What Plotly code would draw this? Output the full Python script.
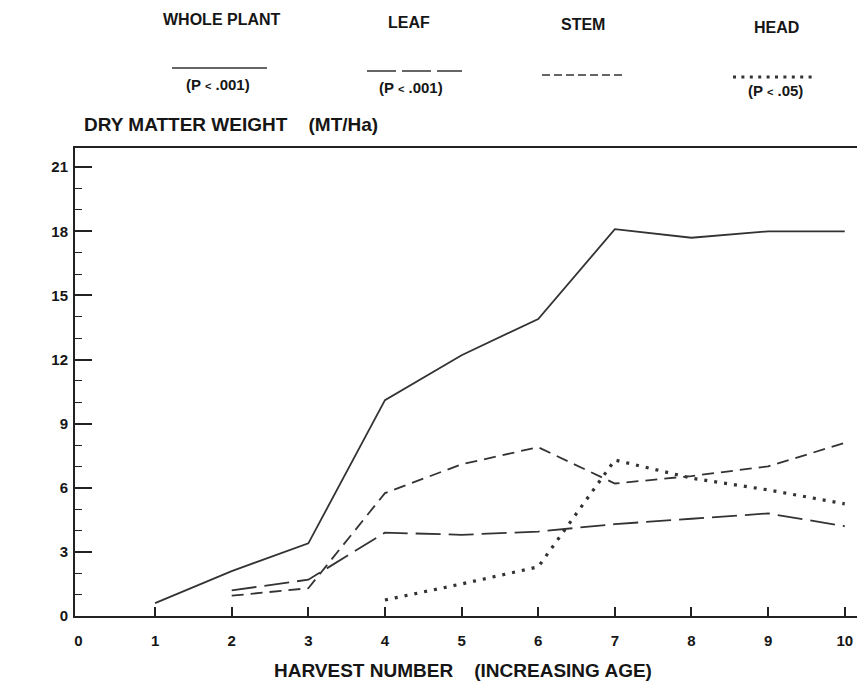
import plotly.graph_objects as go

# Harvest numbers (increasing age) and dry matter weight, MT/Ha
harvest = [1, 2, 3, 4, 5, 6, 7, 8, 9, 10]
whole_plant = [0.6, 2.1, 3.4, 10.1, 12.2, 13.9, 18.1, 17.7, 18.0, 18.0]

leaf_harvest = [2, 3, 4, 5, 6, 7, 8, 9, 10]
leaf = [1.2, 1.7, 3.9, 3.8, 3.95, 4.3, 4.55, 4.8, 4.2]

stem_harvest = [2, 3, 4, 5, 6, 7, 8, 9, 10]
stem = [0.95, 1.3, 5.75, 7.1, 7.9, 6.2, 6.55, 7.0, 8.1]

head_harvest = [4, 5, 6, 7, 8, 9, 10]
head = [0.75, 1.5, 2.3, 7.3, 6.45, 5.9, 5.25]

x_tick_values = [0, 1, 2, 3, 4, 5, 6, 7, 8, 9, 10]
x_tick_labels = ["0", "1", "2", "3", "4", "5", "6", "7", "8", "9", "10"]
y_tick_values = [0, 3, 6, 9, 12, 15, 18, 21]
y_tick_labels = ["0", "3", "6", "9", "12", "15", "18", "21"]

legend_names = ["WHOLE PLANT", "LEAF", "STEM", "HEAD"]
legend_notes = ["(P &lt; .001)", "(P &lt; .001)", "", "(P &lt; .05)"]

INK = "#161616"
LINE = "#333333"
FONT = "Liberation Sans"

# Plot-area geometry in pixels (used to place the header keys in paper space)
W, H = 857, 687
LEFT, RIGHT, TOP, BOTTOM = 75, 0, 148, 71
PW, PH = W - LEFT - RIGHT, H - TOP - BOTTOM


def px(xp):
    return (xp - LEFT) / PW


def py(yp):
    return (H - BOTTOM - yp) / PH


X_RANGE = [-0.045, 10.16]
Y_RANGE = [0, 21.9]

styles = {
    "WHOLE PLANT": dict(dash="solid", width=1.8),
    "LEAF": dict(dash="25px,8px", width=1.8),
    "STEM": dict(dash="12px,7px", width=1.8),
    "HEAD": dict(dash="3px,7px", width=3.2),
}

fig = go.Figure()
for name, xs, ys in [
    ("WHOLE PLANT", harvest, whole_plant),
    ("LEAF", leaf_harvest, leaf),
    ("STEM", stem_harvest, stem),
    ("HEAD", head_harvest, head),
]:
    fig.add_trace(go.Scatter(
        x=xs, y=ys, mode="lines", name=name, showlegend=False,
        line=dict(color=LINE, **styles[name]), hoverinfo="skip",
    ))

# carrier for the overlaid label-only x axis
fig.add_trace(go.Scatter(x=[0], y=[0], xaxis="x2", mode="markers",
                         marker=dict(opacity=0), showlegend=False,
                         hoverinfo="skip"))

tick_font = dict(family=FONT, size=15, color=INK, weight="bold")

fig.update_layout(
    width=W, height=H, autosize=False,
    margin=dict(l=LEFT, r=RIGHT, t=TOP, b=BOTTOM, pad=0),
    paper_bgcolor="white", plot_bgcolor="white",
    xaxis=dict(
        range=X_RANGE, showgrid=False, zeroline=False,
        showline=True, linecolor="#222", linewidth=2, mirror=True,
        tickmode="array", tickvals=x_tick_values[1:],
        ticks="inside", ticklen=9, tickwidth=1.6, tickcolor="#222",
        showticklabels=False,
    ),
    xaxis2=dict(
        range=X_RANGE, overlaying="x", anchor="y", side="bottom",
        showgrid=False, zeroline=False, showline=False, ticks="",
        tickmode="array", tickvals=x_tick_values, ticktext=x_tick_labels,
        tickfont=tick_font, ticklabelstandoff=14,
    ),
    yaxis=dict(
        range=Y_RANGE, showgrid=False, zeroline=False,
        showline=True, linecolor="#222", linewidth=2,
        tickmode="array", tickvals=y_tick_values, ticktext=y_tick_labels,
        ticks="inside", ticklen=17, tickwidth=1.6, tickcolor="#222",
        tickfont=tick_font, ticklabelstandoff=2,
        minor=dict(dtick=1, tick0=0, ticks="inside", ticklen=7,
                   tickwidth=1.4, tickcolor="#222"),
    ),
)

annotations = [
    dict(text="DRY MATTER WEIGHT\u00a0\u00a0\u00a0\u00a0(MT/Ha)",
         x=px(82), y=py(125), xanchor="left", yanchor="middle",
         font=dict(family=FONT, size=19, color=INK, weight="bold")),
    dict(text="HARVEST NUMBER\u00a0\u00a0\u00a0\u00a0(INCREASING AGE)",
         x=px(463), y=py(670), xanchor="center", yanchor="middle",
         font=dict(family=FONT, size=19, color=INK, weight="bold")),
]

# Header key: name, line sample, significance note
key_name_pos = [(222, 19), (409, 22), (583, 24), (776, 27)]
key_line_pos = [(172, 267, 68), (367, 462, 71), (542, 623, 75), (733, 817, 77)]
key_note_pos = [(218, 84), (411, 87), None, (775, 90)]
key_line_style = [
    dict(dash="solid", width=1.6),
    dict(dash="29px,6px", width=1.6),
    dict(dash="8px,4px", width=1.6),
    dict(dash="3px,5.4px", width=3),
]

shapes = []
for name, note, (nx, ny), (lx0, lx1, ly), npos, lst in zip(
        legend_names, legend_notes, key_name_pos, key_line_pos,
        key_note_pos, key_line_style):
    annotations.append(dict(
        text=name, x=px(nx), y=py(ny), xanchor="center", yanchor="middle",
        font=dict(family=FONT, size=16, color=INK, weight="bold")))
    shapes.append(dict(type="line", xref="paper", yref="paper",
                       x0=px(lx0), x1=px(lx1), y0=py(ly), y1=py(ly),
                       line=dict(color=LINE, **lst)))
    if npos and note:
        note_html = note.replace(
            "&lt;", "<span style='font-size:11px'>&lt;</span>")
        annotations.append(dict(
            text=note_html, x=px(npos[0]), y=py(npos[1]),
            xanchor="center", yanchor="middle",
            font=dict(family=FONT, size=15, color=INK, weight="bold")))

for a in annotations:
    a.update(xref="paper", yref="paper", showarrow=False)

fig.update_layout(annotations=annotations, shapes=shapes)

fig.write_html("out.html")
